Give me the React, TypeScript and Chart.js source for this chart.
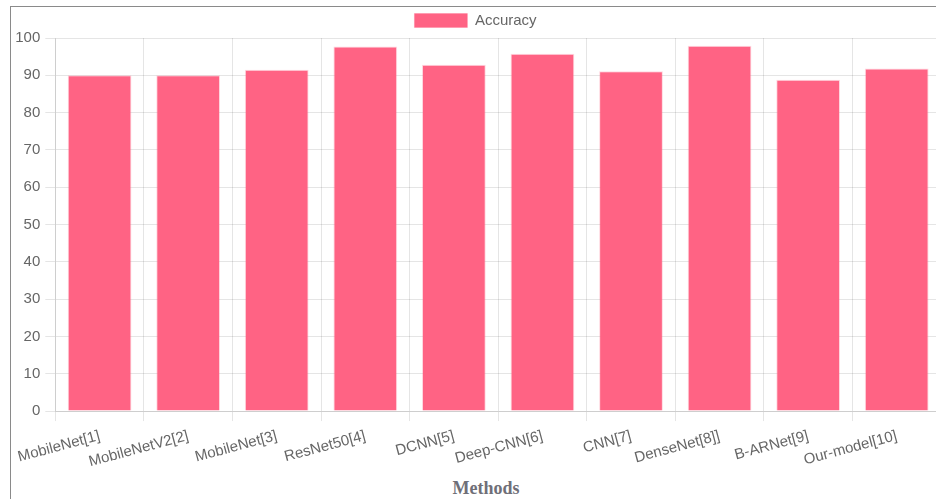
import React, { useEffect, useRef } from "react";
import { Chart, registerables } from "chart.js";

Chart.register(...registerables);

const categories = [
  "MobileNet[1]",
  "MobileNetV2[2]",
  "MobileNet[3]",
  "ResNet50[4]",
  "DCNN[5]",
  "Deep-CNN[6]",
  "CNN[7]",
  "DenseNet[8]]",
  "B-ARNet[9]",
  "Our-model[10]",
];
const accuracy = [90, 90, 91.5, 97.7, 92.8, 95.8, 91.1, 97.9, 88.8, 91.8];
const seriesLabel = "Accuracy";
const xTitle = "Methods";

export default function App() {
  const ref = useRef<HTMLCanvasElement | null>(null);

  useEffect(() => {
    if (!ref.current) return;
    const chart = new Chart(ref.current, {
      type: "bar",
      data: {
        labels: categories,
        datasets: [
          {
            label: seriesLabel,
            data: accuracy,
            backgroundColor: "rgb(255, 99, 132)",
            borderColor: "rgba(255, 99, 132, 0.25)",
            borderWidth: 1,
          },
        ],
      },
      options: {
        responsive: false,
        animation: false,
        layout: { padding: { left: 0, right: 4, top: 0, bottom: 0 } },
        plugins: {
          legend: {
            display: true,
            position: "top",
            labels: {
              color: "#666",
              boxWidth: 53,
              boxHeight: 14,
              font: { family: "'Liberation Sans', Arial, sans-serif", size: 15 },
            },
          },
          tooltip: { enabled: false },
        },
        scales: {
          x: {
            grid: { color: "rgba(0,0,0,0.1)", tickLength: 10 },
            ticks: {
              color: "#666",
              minRotation: 15,
              maxRotation: 15,
              autoSkip: false,
              padding: 6,
              font: { family: "'Liberation Sans', Arial, sans-serif", size: 15 },
            },
            border: { color: "rgba(0,0,0,0.1)" },
          },
          y: {
            min: 0,
            max: 100,
            grid: { color: "rgba(0,0,0,0.1)", tickLength: 10 },
            ticks: {
              stepSize: 10,
              color: "#666",
              padding: 5,
              font: { family: "'Liberation Sans', Arial, sans-serif", size: 15 },
            },
            border: { color: "rgba(0,0,0,0.1)" },
          },
        },
      },
    });
    return () => chart.destroy();
  }, []);

  return (
    <div
      style={{
        position: "fixed",
        left: 0,
        top: 0,
        width: 936,
        height: 499,
        overflow: "hidden",
        background: "#fff",
      }}
    >
      <div
        style={{
          position: "absolute",
          left: 10,
          top: 6,
          width: 1000,
          height: 600,
          borderLeft: "1.5px solid #8a8a8a",
          borderTop: "1.5px solid #8a8a8a",
        }}
      />
      <canvas
        ref={ref}
        width={935}
        height={474}
        style={{ position: "absolute", left: 10, top: 3, width: 935, height: 474 }}
      />
      <div
        style={{
          position: "absolute",
          left: 386,
          width: 200,
          top: 478,
          textAlign: "center",
          fontFamily: "'Liberation Serif', 'Times New Roman', serif",
          fontWeight: "bold",
          fontSize: 18,
          color: "#6f6f78",
        }}
      >
        {xTitle}
      </div>
    </div>
  );
}
